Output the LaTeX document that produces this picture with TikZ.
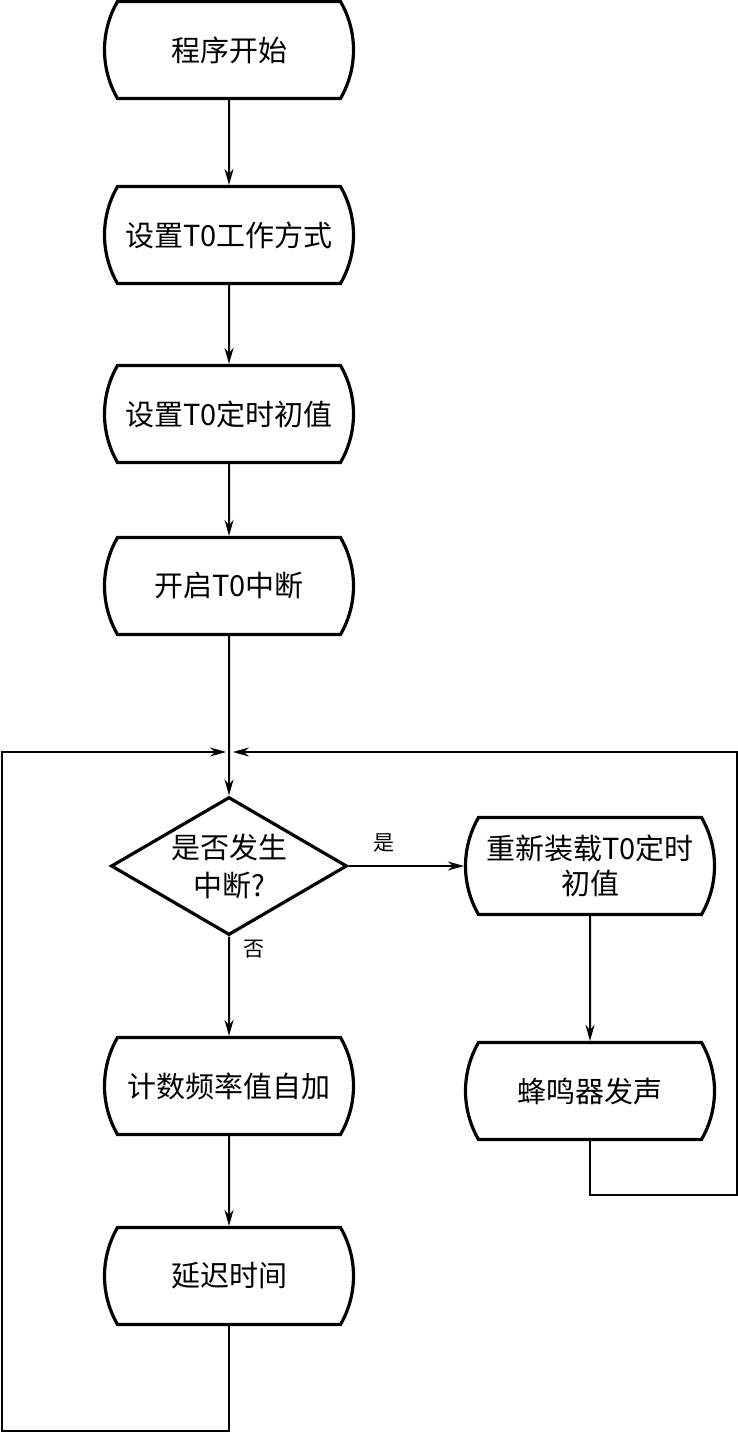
\documentclass[tikz,border=0pt]{standalone}
\usepackage{fontspec}
\newfontfamily\cjk{Noto Sans CJK SC}
\usetikzlibrary{shapes.misc,shapes.geometric,arrows.meta}
\begin{document}
\begin{tikzpicture}[x=1pt,y=-1pt,
  box/.style={rounded rectangle, rounded rectangle arc length=60, draw, line width=3.2pt,
    minimum width=249pt, minimum height=97pt, inner sep=0pt, align=center,
    font=\cjk\fontsize{29}{35}\selectfont},
  dia/.style={diamond, draw, line width=3.2pt, minimum width=236pt, minimum height=138pt,
    inner sep=0pt, align=center, font=\cjk\fontsize{29}{38}\selectfont, aspect=1.7},
  conn/.style={line width=2pt},
  arr/.style={conn, -{Stealth[length=16pt,width=9pt]}},
  lbl/.style={font=\cjk\fontsize{21}{24}\selectfont, inner sep=0pt}]
\useasboundingbox (0,0) rectangle (738,1433);
\node[box] (b1) at (229,50) {程序开始};
\node[box] (b2) at (229,235) {设置T0工作方式};
\node[box] (b3) at (229,414) {设置T0定时初值};
\node[box] (b4) at (229,586) {开启T0中断};
\coordinate (j) at (229,752);
\node[dia] (d) at (229,866) {是否发生\\中断?};
\node[box] (r1) at (590,866) {重新装载T0定时\\初值};
\node[box] (r2) at (590,1091) {蜂鸣器发声};
\node[box] (c1) at (229,1086) {计数频率值自加};
\node[box] (c2) at (229,1276) {延迟时间};
\coordinate (rb) at (590,1195);
\coordinate (rr) at (737,1195);
\coordinate (rt) at (737,752);
\coordinate (lb) at (229,1431);
\coordinate (ll) at (2,1431);
\coordinate (lt) at (2,752);
\draw[arr] (b1) -- (b2);
\draw[arr] (b2) -- (b3);
\draw[arr] (b3) -- (b4);
\draw[arr] (b4) -- (d);
\draw[arr] (d) -- (r1);
\node[lbl] (yes) at (384,843) {是};
\draw[arr] (r1) -- (r2);
\draw[arr] (d) -- (c1);
\node[lbl] (no) at (254,949) {否};
\draw[arr] (c1) -- (c2);
\draw[arr, shorten >=4pt] (r2.south) -- (rb) -- (rr) -- (rt) -- (j);
\draw[arr, shorten >=3pt] (c2.south) -- (lb) -- (ll) -- (lt) -- (j);
\end{tikzpicture}
\end{document}
